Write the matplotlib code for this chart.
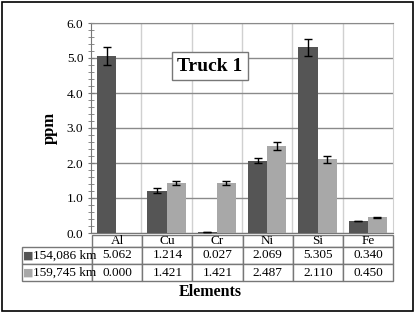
import numpy as np
import matplotlib
matplotlib.use('Agg')
import matplotlib.pyplot as plt
from matplotlib.patches import Rectangle

elements = ['Al', 'Cu', 'Cr', 'Ni', 'Si', 'Fe']
series_names = ['154,086 km', '159,745 km']
vals_154 = [5.062, 1.214, 0.027, 2.069, 5.305, 0.340]
vals_159 = [0.000, 1.421, 1.421, 2.487, 2.110, 0.450]
err_154 = [0.25, 0.06, 0.005, 0.08, 0.25, 0.01]
err_159 = [0.0, 0.06, 0.06, 0.12, 0.10, 0.01]

dark = '#555555'
light = '#a8a8a8'

plt.rcParams['font.family'] = ['Liberation Serif', 'DejaVu Sans']

W, H = 419, 314
fig = plt.figure(figsize=(W / 100, H / 100), dpi=100)
ax = fig.add_axes([91 / W, 1 - 233 / H, 302 / W, 210 / H])

x = np.arange(len(elements))
width = 0.38
ax.bar(x - width / 2, vals_154, width, color=dark, zorder=3)
ax.bar(x + width / 2, vals_159, width, color=light, zorder=3)
ax.errorbar(x - width / 2, vals_154, yerr=err_154, fmt='none', ecolor='black',
            elinewidth=1, capsize=3, capthick=1, zorder=4)
mask = np.array(vals_159) > 0
ax.errorbar((x + width / 2)[mask], np.array(vals_159)[mask], yerr=np.array(err_159)[mask],
            fmt='none', ecolor='black', elinewidth=1, capsize=3, capthick=1, zorder=4)

ax.set_xlim(-0.5, len(elements) - 0.5)
ax.set_ylim(0, 6)
ax.set_yticks(np.arange(0, 6.1, 1.0))
ax.set_yticklabels([f'{v:.1f}' for v in np.arange(0, 6.1, 1.0)], fontsize=9.5)
ax.set_yticks(np.arange(0, 6.01, 0.2), minor=True)
ax.tick_params(axis='y', which='major', length=5, direction='inout', color='#777777', pad=3)
ax.tick_params(axis='y', which='minor', length=4, direction='inout', color='#777777')
ax.set_xticks(np.arange(len(elements) - 1) + 0.5)
ax.set_xticklabels([])
ax.tick_params(axis='x', length=0)
ax.grid(axis='y', color='#8a8a8a', linewidth=1, zorder=0)
ax.grid(axis='x', color='#d0d0d0', linewidth=1, zorder=0)
ax.spines['left'].set_color('#777777')
ax.spines['top'].set_color('#8a8a8a')
ax.spines['right'].set_color('#d0d0d0')
ax.spines['bottom'].set_color('#777777')

ax.set_ylabel('ppm', fontsize=12, fontweight='bold', labelpad=6)

# data table under the axis
cell_text = [[''] + [f'{v:.3f}' for v in vals_154],
             [''] + [f'{v:.3f}' for v in vals_159]]
col_labels = [''] + elements
tab = ax.table(cellText=cell_text, colLabels=col_labels,
               colWidths=[70] + [50] * len(elements),
               bbox=[(22 - 91) / 302, (233 - 281) / 210, (393 - 22) / 302, (281 - 235) / 210])
tab.auto_set_font_size(False)
tab.set_fontsize(9.5)
for (r, c), cell in tab.get_celld().items():
    cell.set_edgecolor('#777777')
    cell.set_linewidth(1)
    cell.set_height(12 if r == 0 else 17)
    cell.get_text().set_ha('center')
tab[0, 0].visible_edges = ''

# legend keys and series names in the first table column
rows_y = [(233 - 255.5) / 210, (233 - 272.5) / 210]
for yc, col, name in zip(rows_y, [dark, light], series_names):
    ax.text((28.5 - 91) / 302, yc, '■', color=col, fontsize=8, family='DejaVu Sans',
            ha='center', va='center', transform=ax.transAxes, clip_on=False)
    ax.text((33 - 91) / 302, yc, name, fontsize=9.5, ha='left', va='center',
            transform=ax.transAxes, clip_on=False)

fig.text(210 / W, 1 - 292 / H, 'Elements', ha='center', va='center',
         fontsize=11.5, fontweight='bold')

ax.text(0.394, 0.795, 'Truck 1', transform=ax.transAxes, ha='center', va='center',
        fontsize=14, fontweight='bold', zorder=6,
        bbox=dict(boxstyle='square,pad=0.3', facecolor='white', edgecolor='#777777', linewidth=1))

fig.patches.append(Rectangle((2 / W, 1 - 311 / H), 411 / W, 309 / H, transform=fig.transFigure,
                             fill=False, edgecolor='black', linewidth=1.2))

plt.savefig('out.png', dpi=100)
